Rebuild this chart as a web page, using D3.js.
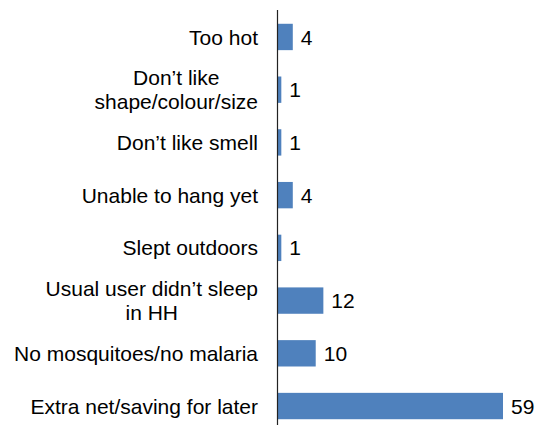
<!DOCTYPE html>
<html>
<head>
<meta charset="utf-8">
<script src="https://cdn.jsdelivr.net/npm/d3@7"></script>
<style>
body { margin: 0; background: #fff; }
</style>
</head>
<body>
<script>
var w = 539;
var h = 425;

var categories = [
    ["Too hot"],
    ["Don\u2019t like", "shape/colour/size"],
    ["Don\u2019t like smell"],
    ["Unable to hang yet"],
    ["Slept outdoors"],
    ["Usual user didn\u2019t sleep", "in HH"],
    ["No mosquitoes/no malaria"],
    ["Extra net/saving for later"]
];
var values = [4, 1, 1, 4, 1, 12, 10, 59];

var axisX = 277.5;
var labelRight = 258;
var fontSize = 21;
var font = "Arial, 'Liberation Sans', sans-serif";

var svg = d3.select("body")
    .append("svg")
    .attr("width", w)
    .attr("height", h);

var idx = d3.range(values.length);

var x = d3.scaleLinear()
    .domain([0, 59])
    .range([axisX, 503]);

var y = d3.scaleBand()
    .domain(idx)
    .range([10.6, 432.4])
    .paddingInner(0.5)
    .paddingOuter(0.25);

//---bars-----
svg.selectAll("rect.bar")
    .data(idx)
    .enter()
    .append("rect")
    .attr("class", "bar")
    .attr("x", axisX)
    .attr("y", function (i) { return y(i); })
    .attr("width", function (i) { return x(values[i]) - axisX; })
    .attr("height", y.bandwidth())
    .attr("fill", "#4f81bd");

//-----value labels------
svg.selectAll("text.val")
    .data(idx)
    .enter()
    .append("text")
    .attr("class", "val")
    .text(function (i) { return values[i]; })
    .attr("x", function (i) { return x(values[i]) + 8; })
    .attr("y", function (i) { return y(i) + y.bandwidth() / 2; })
    .attr("dy", "0.36em")
    .attr("font-size", fontSize)
    .attr("font-family", font)
    .attr("fill", "#000");

//-----category labels------
var lineH = 23.5;
idx.forEach(function (i) {
    var lines = categories[i];
    var cy = y(i) + y.bandwidth() / 2;
    var g = svg.append("text")
        .attr("font-size", fontSize)
        .attr("font-family", font)
        .attr("fill", "#000")
        .attr("text-anchor", "middle");
    var spans = lines.map(function (s, k) {
        return g.append("tspan")
            .text(s)
            .attr("y", cy + (k - (lines.length - 1) / 2) * lineH)
            .attr("dy", "0.36em");
    });
    var maxW = d3.max(spans, function (t) { return t.node().getComputedTextLength(); });
    spans.forEach(function (t) { t.attr("x", labelRight - maxW / 2); });
});

//-----axis line------
svg.append("line")
    .attr("x1", axisX)
    .attr("x2", axisX)
    .attr("y1", 10)
    .attr("y2", h)
    .attr("stroke", "#222")
    .attr("stroke-width", 1.2);
</script>
</body>
</html>
